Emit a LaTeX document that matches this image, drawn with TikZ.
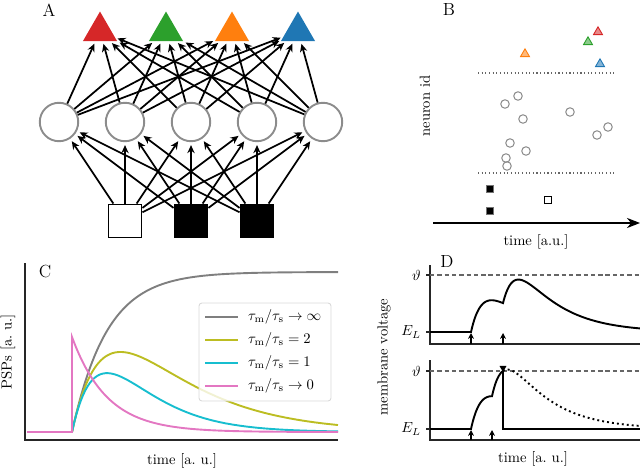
\documentclass[tikz,border=0pt]{standalone}
\usetikzlibrary{shapes.geometric,arrows.meta}

\definecolor{tabred}{HTML}{D62728}
\definecolor{tabgreen}{HTML}{2CA02C}
\definecolor{taborange}{HTML}{FF7F0E}
\definecolor{tabblue}{HTML}{1F77B4}
\definecolor{tabgray}{HTML}{7F7F7F}
\definecolor{tabolive}{HTML}{BCBD22}
\definecolor{tabcyan}{HTML}{17BECF}
\definecolor{tabpink}{HTML}{E377C2}

\tikzset{
  paneltitle/.style={font=\large,inner sep=0pt},
  % network
  outnode/.style={regular polygon,regular polygon sides=3,minimum size=26.9pt,inner sep=0pt,outer sep=0pt},
  hidnode/.style={circle,draw=black!45,line width=1.3pt,fill=white,minimum size=26.3pt,inner sep=0pt},
  innode/.style={rectangle,draw=black,line width=1.3pt,minimum size=22.6pt,inner sep=0pt},
  syn/.style={-{Stealth[length=5.5pt,width=5pt]},line width=1.2pt,shorten >=2pt},
  % raster
  spkout/.style={regular polygon,regular polygon sides=3,minimum size=7.1pt,inner sep=0pt,line width=0.6pt},
  spkhid/.style={circle,draw=black!45,line width=0.7pt,minimum size=5.8pt,inner sep=0pt},
  spkin/.style={rectangle,line width=0.8pt,minimum size=5.2pt,inner sep=0pt},
  sepline/.style={line width=0.8pt,black!60,dash pattern=on 0.8pt off 1.7pt},
  timeline/.style={-{Stealth[length=9pt,width=7pt]},line width=0.8pt},
  % traces
  spine/.style={line width=1pt,black!85},
  pspline/.style={line width=1.3pt},
  legframe/.style={rounded corners=2pt,draw=black!15,fill=white,fill opacity=0.8,line width=0.6pt},
  vtrace/.style={line width=1.3pt,black},
  freerun/.style={dash pattern=on 1.3pt off 2.1pt},
  thresh/.style={black!60,line width=0.8pt,dash pattern=on 3pt off 2pt},
  inarrow/.style={-{Stealth[length=4pt,width=4pt]},line width=1pt},
  spikemark/.style={regular polygon,regular polygon sides=3,shape border rotate=180,fill=black,minimum size=5.5pt,inner sep=0pt},
  declare function={psp(\t)=exp(-max(\t,0)/40)-exp(-max(\t,0)/12);}
}

\begin{document}
\begin{tikzpicture}[x=0.684pt,y=-0.684pt]
\useasboundingbox (0,0) rectangle (640,468);

% A: network
\node[paneltitle] (pA) at (49,10) {A};
\foreach \col/\x [count=\i] in {tabred/100,tabgreen/166,taborange/232,tabblue/298}
  \node[outnode,fill=\col] (o\i) at (\x,31.2) {};
\foreach \x [count=\i] in {59,125,191,257,323}
  \node[hidnode] (h\i) at (\x,122) {};
\foreach \col/\x [count=\i] in {white/125,black/191,black/257}
  \node[innode,fill=\col] (v\i) at (\x,221) {};
\foreach \i in {1,...,5}{
  \foreach \j in {1,...,4}
    \draw[syn] (h\i) -- (o\j);
  \foreach \j in {1,2,3}
    \draw[syn] (v\j) -- (h\i);
}

% B: raster
\node[paneltitle] (pB) at (449,10) {B};
\node[rotate=90] (idB) at (425,106) {neuron id};
\draw[sepline] (478,73) -- (614,73);
\draw[sepline] (478,173) -- (614,173);
\foreach \col/\x/\y [count=\i] in {tabred/598/32,tabgreen/588/42,taborange/525/54,tabblue/600/64}
  \node[spkout,draw=\col,fill=\col!55] (so\i) at (\x,\y) {};
\foreach \x/\y [count=\i] in {505/104,518/96,523/119,570/112,597/135,608/127,510/143,526/151,506/158,507/166}
  \node[spkhid] (sh\i) at (\x,\y) {};
\node[spkin,draw=black!55,fill=black] (sv1) at (490,189) {};
\node[spkin,draw=black!55,fill=black] (sv2) at (490,211) {};
\node[spkin,draw=black,fill=white] (sv3) at (548,200) {};
\coordinate (tb0) at (433,223);
\coordinate (tb1) at (640,223);
\draw[timeline] (tb0) -- (tb1);
\node (timeB) at (536,242) {time [a.u.]};

% C: PSP shapes
\node[paneltitle] (pC) at (45,272) {C};
\draw[spine] (25,263) -- (25,440) -- (338,440);
\node[rotate=90] (yC) at (8,352) {PSPs [a.\ u.]};
\node (xC) at (182,461) {time [a.\ u.]};
\draw[pspline,tabgray] (27,432) -- (72,432) -- plot[domain=72:338,samples=120] (\x,{432-160*(1-exp(-(\x-72)/35))});
\draw[pspline,tabolive] (27,432) -- (72,432) -- plot[domain=72:338,samples=120] (\x,{432-320*(exp(-(\x-72)/70)-exp(-(\x-72)/35))});
\draw[pspline,tabcyan] (27,432) -- (72,432) -- plot[domain=72:338,samples=120] (\x,{432-160*((\x-72)/35)*exp(-(\x-72)/35)});
\draw[pspline,tabpink] (27,432) -- (72,432) -- (72,337) -- plot[domain=72:338,samples=120] (\x,{432-95*exp(-(\x-72)/35)});
\draw[legframe] (199,303) rectangle (331,401);
\foreach \col/\y/\txt [count=\i] in {tabgray/317/{\rightarrow\infty},tabolive/340/{=2},tabcyan/363/{=1},tabpink/386/{\rightarrow0}}{
  \draw[pspline,\col] (205,\y) -- (238,\y);
  \node[anchor=west] (leg\i) at (243,\y) {$\tau_\mathrm{m}/\tau_\mathrm{s}\txt$};
}

% D: membrane voltage
\node[paneltitle] (pD) at (447,262) {D};
\node[rotate=90] (yD) at (384,357) {membrane voltage};
\node (xD) at (533,459) {time [a.\ u.]};
% upper trace
\draw[spine] (430,265) -- (430,344) -- (640,344);
\draw[spine] (426,275) -- (430,275);
\draw[spine] (426,332) -- (430,332);
\node[anchor=east] (thU) at (426,275) {$\vartheta$};
\node[anchor=east] (elU) at (426,332) {$E_L$};
\draw[thresh] (430,275) -- (640,275);
\draw[vtrace] (430,332) -- (471,332) -- plot[domain=471:640,samples=170] (\x,{332-76*(psp(\x-471)+psp(\x-503))});
\draw[inarrow] (471,344) -- (471,333);
\draw[inarrow] (503,344) -- (503,333);
% lower trace
\draw[spine] (430,360) -- (430,440) -- (640,440);
\draw[spine] (426,371) -- (430,371);
\draw[spine] (426,429) -- (430,429);
\node[anchor=east] (thL) at (426,371) {$\vartheta$};
\node[anchor=east] (elL) at (426,429) {$E_L$};
\draw[thresh] (430,371) -- (640,371);
\draw[vtrace] (430,429) -- (471,429) -- plot[domain=471:503,samples=33] (\x,{429-78.4*(psp(\x-471)+psp(\x-492))}) -- (503,429) -- (640,429);
\draw[vtrace,freerun] plot[domain=503:640,samples=138] (\x,{429-78.4*(psp(\x-471)+psp(\x-492))});
\node[spikemark] (spk) at (503,368) {};
\draw[inarrow] (471,440) -- (471,430);
\draw[inarrow] (492,440) -- (492,430);
\end{tikzpicture}
\end{document}
